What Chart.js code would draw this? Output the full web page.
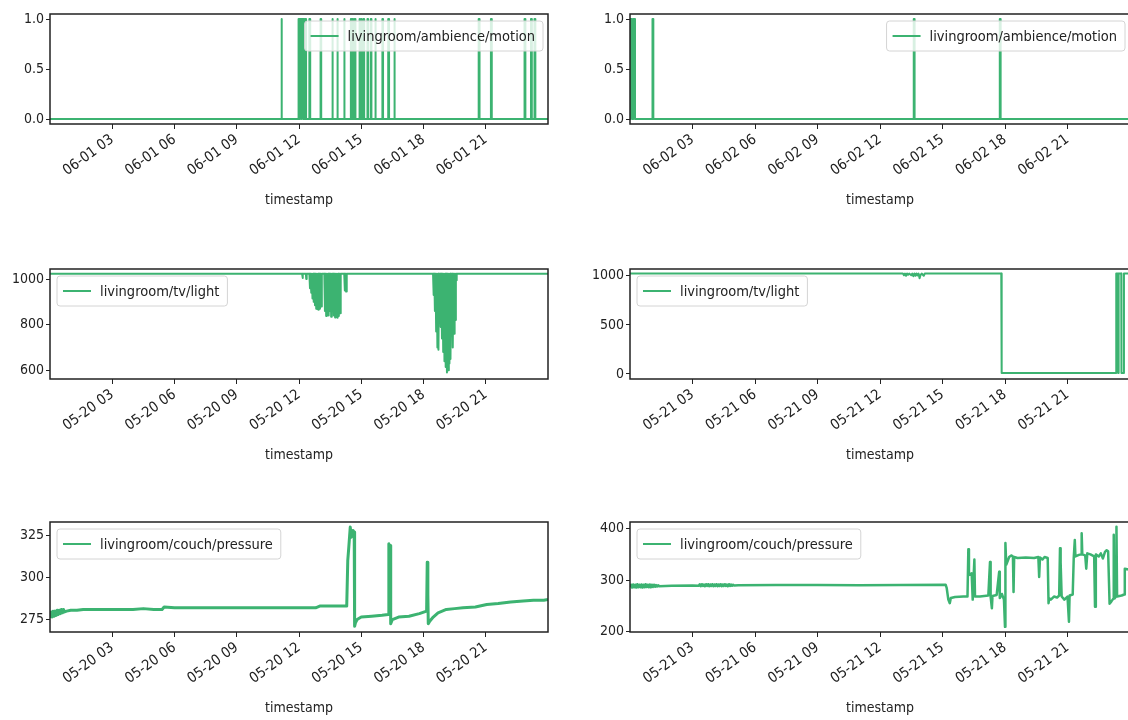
<!DOCTYPE html>
<html>
<head>
<meta charset="utf-8">
<title>livingroom sensors</title>
<script src="https://cdn.jsdelivr.net/npm/chart.js@4.4.1/dist/chart.umd.min.js"></script>
<style>
  html, body { margin: 0; padding: 0; background: #fff; width: 1128px; height: 720px; overflow: hidden; position: relative; }
  .panel { position: absolute; }
</style>
</head>
<body>
<div class="panel" style="left:0px;top:0px"><canvas id="c0" width="550" height="209"></canvas></div>
<div class="panel" style="left:578px;top:0px"><canvas id="c1" width="554" height="209"></canvas></div>
<div class="panel" style="left:0px;top:255px"><canvas id="c2" width="550" height="209"></canvas></div>
<div class="panel" style="left:578px;top:255px"><canvas id="c3" width="554" height="209"></canvas></div>
<div class="panel" style="left:0px;top:508px"><canvas id="c4" width="550" height="209"></canvas></div>
<div class="panel" style="left:578px;top:508px"><canvas id="c5" width="554" height="209"></canvas></div>
<script>
// tick labels / categories
const xTickHours = [3, 6, 9, 12, 15, 18, 21];
const panelDates = ['06-01', '06-02', '05-20', '05-21', '05-20', '05-21'];
const seriesNames = ['livingroom/ambience/motion', 'livingroom/ambience/motion',
                     'livingroom/tv/light', 'livingroom/tv/light',
                     'livingroom/couch/pressure', 'livingroom/couch/pressure'];
const motionTicks = [0, 0.5, 1.0];
const lightTicks0520 = [600, 800, 1000];
const lightTicks0521 = [0, 500, 1000];
const pressureTicks0520 = [275, 300, 325];
const pressureTicks0521 = [200, 300, 400];

// motion: hours where the sensor reads 1 (start, end)
const motionOn0601 = [[11.14, 11.18], [11.98, 12.02], [12.05, 12.1], [12.14, 12.2], [12.22, 12.26], [12.31, 12.34],
  [12.5, 12.54], [13.04, 13.07], [13.6, 13.63], [13.84, 13.87], [14.17, 14.2], [14.5, 14.53], [14.58, 14.61],
  [14.68, 14.72], [14.9, 14.93], [14.98, 15.01], [15.1, 15.14], [15.3, 15.33], [15.46, 15.49], [15.67, 15.7],
  [16.02, 16.05], [16.3, 16.34], [16.58, 16.62], [20.66, 20.7], [21.25, 21.29], [22.87, 22.91], [23.18, 23.22],
  [23.35, 23.39]];
const motionOn0602 = [[0.02, 0.1], [0.16, 0.24], [1.08, 1.12], [13.62, 13.66], [17.75, 17.79]];

// tv light
const lightHours0520 = [0, 12.15, 12.17, 12.19, 12.33, 12.35, 12.37,
  12.5, 12.53, 12.56, 12.59, 12.62, 12.65, 12.68, 12.71, 12.74, 12.77, 12.8, 12.83, 12.86, 12.89, 12.92, 12.95, 12.98, 13.01, 13.04, 13.07, 13.1,
  13.22, 13.25, 13.28, 13.31, 13.34, 13.37, 13.4, 13.43, 13.46, 13.49, 13.52, 13.55, 13.58,
  13.65, 13.68, 13.71, 13.74, 13.77, 13.8, 13.83, 13.86, 13.89, 13.92, 13.95, 13.98, 14.01,
  14.18, 14.21, 14.24, 14.27, 14.3,
  18.46, 18.49, 18.52, 18.55, 18.58, 18.61, 18.64, 18.67, 18.7, 18.72, 18.75,
  18.8, 18.83, 18.86, 18.89, 18.92, 18.95, 18.98, 19.01, 19.04, 19.07, 19.1, 19.13, 19.16, 19.19, 19.22, 19.25, 19.28, 19.3, 19.33,
  19.38, 19.41, 19.44, 19.47, 19.5, 19.53, 19.56, 19.58, 19.6, 24];
const lightValues0520 = [1023, 1023, 1005, 1023, 1023, 1000, 1023,
  1023, 960, 1023, 940, 1023, 915, 1023, 900, 1023, 885, 1023, 870, 1023, 868, 1023, 865, 1023, 870, 1023, 880, 1023,
  1023, 860, 1023, 838, 1023, 845, 1023, 840, 1023, 860, 1023, 835, 1023,
  1023, 840, 1023, 832, 1023, 845, 1023, 830, 1023, 838, 1023, 850, 1023,
  1023, 950, 1023, 945, 1023,
  1023, 930, 1023, 860, 1023, 770, 1023, 700, 1023, 690, 1023,
  1023, 790, 1023, 740, 1023, 680, 1023, 640, 1023, 615, 1023, 590, 1023, 600, 1023, 630, 1023, 650, 1023,
  1023, 700, 1023, 760, 1023, 820, 1023, 995, 1023, 1023];
const lightHours0521 = [0, 13.1, 13.15, 13.2, 13.25, 13.3, 13.35, 13.4, 13.5, 13.55, 13.6, 13.65, 13.7, 13.75, 13.8,
  13.85, 13.9, 13.95, 14.0, 14.1, 14.15, 17.82, 17.84, 23.33, 23.34, 23.42, 23.43, 23.45, 23.46, 23.58, 23.59,
  23.7, 23.71, 24];
const lightValues0521 = [1023, 1023, 1005, 1023, 1000, 1023, 1010, 1023, 1005, 1023, 995, 1023, 1000, 1023, 1003,
  1023, 975, 1010, 1023, 1000, 1023, 1023, 10, 10, 1023, 1023, 10, 10, 1023, 1023, 10,
  10, 1023, 1023];

// couch pressure
const pressureHours0520 = [0, 0.05, 0.1, 0.15, 0.2, 0.25, 0.3, 0.35, 0.4, 0.45, 0.5, 0.55, 0.6, 0.65, 0.7, 0.8,
  1.0, 1.3, 1.6, 2.0, 2.5, 3.0, 3.5, 4.0, 4.5, 5.0, 5.4, 5.5, 6, 7, 8, 9, 10, 11, 12, 12.8, 13.0,
  14.3, 14.35, 14.4, 14.47, 14.52, 14.6, 14.66,
  14.68, 14.72, 14.8, 15.0, 15.5, 16.0, 16.3, 16.33, 16.36, 16.4, 16.42, 16.5, 16.8, 17.3, 17.8, 18.15, 18.18,
  18.21, 18.23, 18.3, 18.47, 18.7, 19.1, 19.5, 19.9, 20.5, 21.05, 21.6, 22.2, 22.8, 23.3, 23.8, 24];
const pressureValues0520 = [276, 279.5, 276.5, 280, 277, 280, 277.5, 280.5, 278, 280.5, 278.5, 281, 279, 281, 279.5, 280,
  280.5, 280.5, 281, 281, 281, 281, 281, 281, 281.5, 281, 281, 282.5, 282, 282, 282, 282, 282, 282, 282, 282, 283,
  283, 310, 318, 330, 324, 328, 327,
  271, 273, 275, 276.5, 277, 277.5, 278, 320, 318, 319, 272.5, 275, 276.5, 277, 278.5, 280, 309,
  290, 272.5, 274, 276.5, 279, 281, 281.5, 282, 282.5, 284, 284.5, 285.5, 286, 286.5, 286.5, 287];
const pressureHours0521 = [0, 0.05, 0.1, 0.15, 0.2, 0.25, 0.3, 0.35, 0.4, 0.45, 0.5, 0.55, 0.6, 0.65, 0.7, 0.75,
  0.8, 0.85, 0.9, 0.95, 1.0, 1.05, 1.1, 1.15, 1.2, 1.25, 1.3, 1.35, 1.4, 2.0, 3.0, 3.3,
  3.35, 3.4, 3.45, 3.5, 3.55, 3.6, 3.65, 3.7, 3.75, 3.8, 3.85, 3.9, 3.95, 4.0, 4.05, 4.1, 4.15, 4.2, 4.25, 4.3,
  4.35, 4.4, 4.45, 4.5, 4.55, 4.6, 4.65, 4.7, 4.75, 4.8, 4.85, 4.9, 4.95, 5.0,
  5.2, 7, 9, 11, 13, 15.15, 15.2, 15.28, 15.35, 15.4, 15.6, 16.0,
  16.2, 16.24, 16.27, 16.4, 16.45, 16.5, 16.53, 16.56, 16.8, 17.2, 17.28, 17.31, 17.37, 17.4, 17.6, 17.72, 17.75,
  17.85, 17.95, 18.0, 18.02, 18.06, 18.12, 18.2, 18.3, 18.38, 18.41, 18.44, 18.6, 19.0, 19.4, 19.6, 19.64, 19.68,
  19.8, 19.9, 20.05, 20.09, 20.12, 20.2, 20.35, 20.5, 20.6, 20.64, 20.67, 20.72, 20.85, 21.0, 21.07, 21.1, 21.25,
  21.3, 21.35, 21.38, 21.55, 21.65, 21.68, 21.71, 21.85, 21.9, 21.95, 22.1, 22.28, 22.32, 22.36, 22.5, 22.6, 22.7,
  22.8, 22.88, 22.95, 23.02, 23.1, 23.2, 23.22, 23.25, 23.33, 23.35, 23.38, 23.6, 23.72, 23.75, 24];
const pressureValues0521 = [286, 291, 285.5, 291.5, 286, 291, 285.5, 292, 286, 291, 286, 291.5, 285.5, 291, 286, 292,
  286.5, 291, 286, 291.5, 286, 291, 286.5, 291, 287, 290.5, 287.5, 290, 288, 289, 289.5, 289,
  292, 288, 292, 288.5, 291.5, 288, 292, 288.5, 292, 288, 291.5, 288.5, 292, 288, 291.5, 288.5, 292, 288, 291.5, 288.5,
  292, 288, 291.5, 288.5, 292, 288.5, 291.5, 288, 292, 288.5, 291.5, 289, 291, 289.5,
  290, 290.5, 290.5, 290, 290.5, 291, 285, 262, 255, 265, 267, 268,
  268, 360, 310, 313, 262, 312, 340, 268, 268, 270, 335, 268, 245, 269, 271, 316, 265,
  273, 262, 209, 372, 330, 336, 345, 348, 346, 277, 345, 343, 344, 343, 345, 306, 344,
  340, 345, 343, 255, 265, 262, 268, 266, 270, 362, 335, 268, 262, 268, 219, 270, 272,
  344, 378, 346, 349, 350, 391, 350, 348, 322, 352, 350, 346, 248, 350, 346, 352, 342,
  355, 358, 356, 254, 258, 264, 388, 264, 268, 404, 268, 270, 272, 322, 320];

const FONT = '"DejaVu Sans Condensed", "DejaVu Sans", sans-serif';
const GREEN = '#3cb371';
const INK = '#222222';

Chart.defaults.font.family = FONT;
Chart.defaults.font.size = 14;
Chart.defaults.color = INK;

function zip(hours, values) {
  return hours.map((h, i) => ({ x: h, y: values[i] }));
}

// on/off intervals -> step line at 0 / 1
function motionPoints(intervals) {
  const pts = [{ x: 0, y: 0 }];
  intervals.forEach(([s, e]) => {
    pts.push({ x: s, y: 0 }, { x: s, y: 1 }, { x: e, y: 1 }, { x: e, y: 0 });
  });
  pts.push({ x: 24, y: 0 });
  return pts;
}

// box around the axes + matplotlib style legend
const frameLegend = {
  id: 'frameLegend',
  afterDatasetsDraw(chart, args, opts) {
    const { ctx, chartArea: a } = chart;
    const ds = chart.data.datasets[0];
    ctx.save();
    ctx.font = '14.5px ' + FONT;
    const tw = ctx.measureText(ds.label).width;
    const w = 6 + 28 + 9 + tw + 8, h = 30;
    const x = opts.side === 'right' ? a.right - 5 - w : a.left + 7;
    const y = a.top + 7;
    ctx.beginPath();
    ctx.roundRect(x, y, w, h, 3);
    ctx.fillStyle = 'rgba(255,255,255,0.8)';
    ctx.fill();
    ctx.strokeStyle = '#d4d4d4';
    ctx.lineWidth = 1;
    ctx.stroke();
    ctx.beginPath();
    ctx.moveTo(x + 6, y + h / 2);
    ctx.lineTo(x + 34, y + h / 2);
    ctx.strokeStyle = ds.borderColor;
    ctx.lineWidth = 2;
    ctx.stroke();
    ctx.fillStyle = INK;
    ctx.textBaseline = 'middle';
    ctx.fillText(ds.label, x + 43, y + h / 2 + 1);

    ctx.strokeStyle = INK;
    ctx.lineWidth = 1.5;
    ctx.strokeRect(a.left, a.top, a.width, a.height);
    ctx.restore();
  }
};

const panels = [
  { data: motionPoints(motionOn0601), yMin: -0.05, yMax: 1.05, yTicks: motionTicks, fmt: v => v.toFixed(1), side: 'right', yW: 50, lw: 2 },
  { data: motionPoints(motionOn0602), yMin: -0.05, yMax: 1.05, yTicks: motionTicks, fmt: v => v.toFixed(1), side: 'right', yW: 52, lw: 2 },
  { data: zip(lightHours0520, lightValues0520), yMin: 562, yMax: 1044, yTicks: lightTicks0520, fmt: v => String(v), side: 'left', yW: 50, lw: 2 },
  { data: zip(lightHours0521, lightValues0521), yMin: -51, yMax: 1069, yTicks: lightTicks0521, fmt: v => String(v), side: 'left', yW: 52, lw: 2 },
  { data: zip(pressureHours0520, pressureValues0520), yMin: 267.6, yMax: 333, yTicks: pressureTicks0520, fmt: v => String(v), side: 'left', yW: 50, lw: 3 },
  { data: zip(pressureHours0521, pressureValues0521), yMin: 199, yMax: 413, yTicks: pressureTicks0521, fmt: v => String(v), side: 'left', yW: 52, lw: 2.5 }
];

panels.forEach((p, i) => {
  const date = panelDates[i];
  new Chart(document.getElementById('c' + i), {
    type: 'line',
    data: {
      datasets: [{
        label: seriesNames[i],
        data: p.data,
        borderColor: GREEN,
        backgroundColor: GREEN,
        borderWidth: p.lw,
        borderJoinStyle: 'round',
        pointRadius: 0,
        tension: 0
      }]
    },
    options: {
      responsive: false,
      animation: false,
      events: [],
      layout: { padding: { top: 14, right: 2, left: 0, bottom: 0 } },
      plugins: {
        legend: { display: false },
        tooltip: { enabled: false },
        frameLegend: { side: p.side }
      },
      scales: {
        x: {
          type: 'linear',
          min: 0,
          max: 24,
          afterBuildTicks: s => { s.ticks = xTickHours.map(v => ({ value: v })); },
          afterFit: s => { s.height = 85; },
          ticks: {
            autoSkip: false,
            minRotation: 36,
            maxRotation: 36,
            padding: 2,
            font: { size: 14.5 },
            callback: v => date + ' ' + String(v).padStart(2, '0')
          },
          grid: { drawOnChartArea: false, drawTicks: true, tickLength: 5, color: INK },
          border: { display: false },
          title: { display: true, text: 'timestamp', font: { size: 14 }, padding: 0 }
        },
        y: {
          min: p.yMin,
          max: p.yMax,
          afterBuildTicks: s => { s.ticks = p.yTicks.map(v => ({ value: v })); },
          afterFit: s => { s.width = p.yW; },
          ticks: { padding: 2, font: { size: 14 }, callback: v => p.fmt(v) },
          grid: { drawOnChartArea: false, drawTicks: true, tickLength: 4, color: INK },
          border: { display: false }
        }
      }
    },
    plugins: [frameLegend]
  });
});
</script>
</body>
</html>
